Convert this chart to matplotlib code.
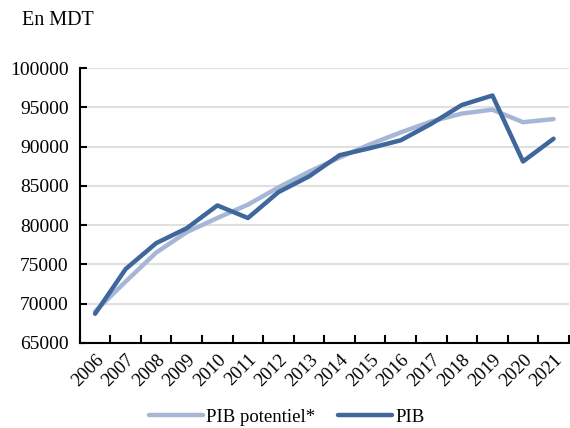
import matplotlib.pyplot as plt

# Data (millions of dinars)
years = ["2006", "2007", "2008", "2009", "2010", "2011", "2012", "2013",
         "2014", "2015", "2016", "2017", "2018", "2019", "2020", "2021"]
pib_potentiel = [69000, 72800, 76500, 79100, 80900, 82600, 84800, 86800,
                 88600, 90300, 91800, 93200, 94200, 94700, 93100, 93500]
pib = [68700, 74400, 77700, 79600, 82500, 80900, 84200, 86200,
       88900, 89800, 90800, 92900, 95300, 96500, 88100, 91000]

plt.rcParams["font.family"] = ["Liberation Serif", "DejaVu Serif"]

fig = plt.figure(figsize=(5.7, 4.28), dpi=100)
ax = fig.add_axes([0.14, 0.199, 0.858, 0.642])

x = list(range(len(years)))
ax.plot(x, pib_potentiel, color="#a6b7d6", lw=3.2, label="PIB potentiel*",
        solid_capstyle="round", solid_joinstyle="round")
ax.plot(x, pib, color="#3f679b", lw=3.2, label="PIB",
        solid_capstyle="round", solid_joinstyle="round")

ax.set_ylim(65000, 100000)
ax.set_yticks(range(65000, 100001, 5000))
ax.set_xlim(-0.5, len(years) - 0.5)
ax.set_xticks([i - 0.5 for i in range(len(years) + 1)], minor=False)
ax.set_xticklabels([""] * (len(years) + 1))
ax.set_xticks(x, minor=True)
ax.set_xticklabels(years, minor=True, rotation=45, ha="right",
                   rotation_mode="anchor", fontsize=13.5)
ax.tick_params(axis="x", which="minor", length=0, pad=6)
ax.tick_params(axis="x", which="major", direction="in", length=6, width=1.5)
ax.tick_params(axis="y", direction="in", length=5, width=1.5, labelsize=14, pad=8)

ax.grid(axis="y", color="#e0e0e0", lw=1.5)
ax.set_axisbelow(True)
for s in ["top", "right"]:
    ax.spines[s].set_visible(False)
for s in ["left", "bottom"]:
    ax.spines[s].set_linewidth(1.5)

fig.text(0.038, 0.953, "En MDT", fontsize=14.5, va="center", ha="left")

fig.legend(loc="center", bbox_to_anchor=(0.503, 0.025), ncol=2, frameon=False,
           fontsize=13.5, handlelength=2.9, handletextpad=0.15, columnspacing=1.2)

fig.savefig("out.png", dpi=100)
